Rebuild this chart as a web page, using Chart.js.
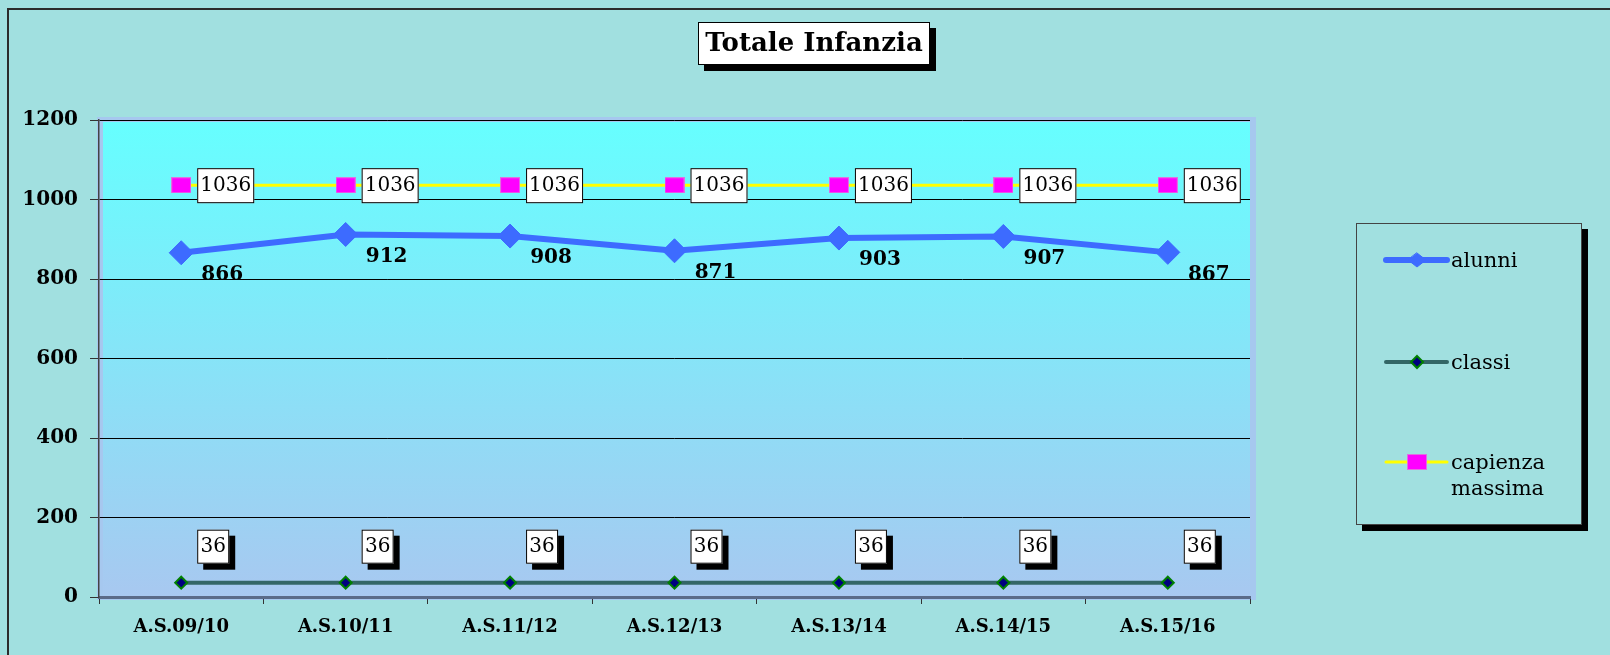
<!DOCTYPE html>
<html>
<head>
<meta charset="utf-8">
<script src="https://cdn.jsdelivr.net/npm/chart.js@4.4.1/dist/chart.umd.min.js"></script>
<style>
  html, body { margin: 0; padding: 0; background: #a1e0e0; }
  canvas { display: block; }
</style>
</head>
<body>
<canvas id="chart_1" width="1610" height="655"></canvas>
<script>
// data
var labels = ['A.S.09/10', 'A.S.10/11', 'A.S.11/12', 'A.S.12/13', 'A.S.13/14', 'A.S.14/15', 'A.S.15/16'];
var alunni = [866, 912, 908, 871, 903, 907, 867];
var classi = [36, 36, 36, 36, 36, 36, 36];
var capienza = [1036, 1036, 1036, 1036, 1036, 1036, 1036];
var seriesNames = ['alunni', 'classi', ['capienza', 'massima']];
var chartTitle = 'Totale Infanzia';

var serif = '"DejaVu Serif", "Liberation Serif", serif';

// magenta square marker for capienza (a bit wider than tall)
function makeSquare(w, h) {
  var c = document.createElement('canvas');
  c.width = w; c.height = h;
  var g = c.getContext('2d');
  g.fillStyle = '#ff00ff';
  g.fillRect(0, 0, w, h);
  g.strokeStyle = '#e070e0';
  g.lineWidth = 1;
  g.strokeRect(0.5, 0.5, w - 1, h - 1);
  return c;
}
var squareMarker = makeSquare(20, 16);

function boxWithShadow(ctx, x, y, w, h, shadow) {
  if (shadow) {
    ctx.fillStyle = '#000';
    ctx.fillRect(x + 6, y + 6, w, h);
  }
  ctx.fillStyle = '#fff';
  ctx.fillRect(x, y, w, h);
  ctx.strokeStyle = '#000';
  ctx.lineWidth = 1;
  ctx.strokeRect(x + 0.5, y + 0.5, w - 1, h - 1);
}

var decoPlugin = {
  id: 'deco',
  beforeDraw: function(chart) {
    var ctx = chart.ctx;
    var a = chart.chartArea;
    ctx.save();
    // outer background + frame
    ctx.fillStyle = '#a1e0e0';
    ctx.fillRect(0, 0, chart.width, chart.height);
    ctx.strokeStyle = '#2b2b2b';
    ctx.lineWidth = 2;
    ctx.beginPath();
    ctx.moveTo(8, chart.height);
    ctx.lineTo(8, 9);
    ctx.lineTo(chart.width, 9);
    ctx.stroke();
    // plot area border band + gradient
    ctx.fillStyle = '#a6c8ef';
    ctx.fillRect(a.left - 2, a.top - 3, a.right - a.left + 8, a.bottom - a.top + 6);
    var grad = ctx.createLinearGradient(0, a.top + 2, 0, a.bottom);
    grad.addColorStop(0, '#66ffff');
    grad.addColorStop(1, '#a8c8f0');
    ctx.fillStyle = grad;
    ctx.fillRect(a.left + 4, a.top + 2, a.right - a.left - 4, a.bottom - a.top - 2);
    ctx.restore();
  },
  afterDatasetsDraw: function(chart) {
    var ctx = chart.ctx;
    ctx.save();
    ctx.textAlign = 'center';
    ctx.textBaseline = 'middle';

    // alunni: bold numbers below right
    var m0 = chart.getDatasetMeta(0);
    ctx.font = 'bold 20px ' + serif;
    ctx.fillStyle = '#000';
    m0.data.forEach(function(pt, i) {
      ctx.fillText(String(alunni[i]), pt.x + 41, pt.y + 22);
    });

    // classi: boxed labels with shadow, above right
    var m1 = chart.getDatasetMeta(1);
    ctx.font = '20px ' + serif;
    m1.data.forEach(function(pt, i) {
      var bx = pt.x + 16, by = pt.y - 53;
      boxWithShadow(ctx, bx, by, 32, 34, true);
      ctx.fillStyle = '#000';
      ctx.fillText(String(classi[i]), bx + 16, by + 17);
    });

    // capienza: boxed labels to the right of marker
    var m2 = chart.getDatasetMeta(2);
    m2.data.forEach(function(pt, i) {
      var bx = pt.x + 16, by = pt.y - 17;
      boxWithShadow(ctx, bx, by, 57, 35, false);
      ctx.fillStyle = '#000';
      ctx.fillText(String(capienza[i]), bx + 28.5, by + 18);
    });
    ctx.restore();
  },
  afterDraw: function(chart) {
    var ctx = chart.ctx;
    ctx.save();
    // title
    boxWithShadow(ctx, 698, 22, 232, 43, true);
    ctx.fillStyle = '#000';
    ctx.font = 'bold 26px ' + serif;
    ctx.textAlign = 'center';
    ctx.textBaseline = 'middle';
    ctx.fillText(chartTitle, 814, 44);

    // legend box
    var lx = 1356, ly = 223, lw = 226, lh = 302;
    ctx.fillStyle = '#000';
    ctx.fillRect(lx + 6, ly + 6, lw, lh);
    ctx.fillStyle = '#a1e0e0';
    ctx.fillRect(lx, ly, lw, lh);
    ctx.strokeStyle = '#444';
    ctx.lineWidth = 1;
    ctx.strokeRect(lx + 0.5, ly + 0.5, lw - 1, lh - 1);

    ctx.textAlign = 'left';
    ctx.font = '21px ' + serif;
    var rows = [260, 362, 462];
    var ds = chart.data.datasets;
    rows.forEach(function(y, i) {
      var d = ds[i];
      ctx.strokeStyle = d.borderColor;
      ctx.lineWidth = d.borderWidth;
      ctx.lineCap = 'round';
      ctx.beginPath();
      ctx.moveTo(1386, y);
      ctx.lineTo(1447, y);
      ctx.stroke();
      if (i === 2) {
        ctx.drawImage(squareMarker, 1407, y - 8);
      } else {
        var rx = i === 0 ? 9 : 6, ry = i === 0 ? 7 : 6;
        ctx.fillStyle = d.pointBackgroundColor;
        ctx.strokeStyle = d.pointBorderColor;
        ctx.lineWidth = d.pointBorderWidth;
        ctx.beginPath();
        ctx.moveTo(1417, y - ry); ctx.lineTo(1417 + rx, y); ctx.lineTo(1417, y + ry); ctx.lineTo(1417 - rx, y);
        ctx.closePath();
        ctx.fill();
        ctx.stroke();
      }
      ctx.fillStyle = '#000';
      var names = [].concat(seriesNames[i]);
      ctx.textBaseline = 'middle';
      names.forEach(function(n, k) {
        ctx.fillText(n, 1451, y + 2 + k * 26);
      });
    });
    ctx.restore();
  }
};

var ctx_1 = document.getElementById('chart_1').getContext('2d');
var chart_1 = new Chart(ctx_1, {
  type: 'line',
  data: {
    labels: labels,
    datasets: [{
      label: 'alunni',
      data: alunni,
      borderColor: '#3d6bff',
      borderWidth: 6,
      pointStyle: 'rectRot',
      pointRadius: 12,
      pointBackgroundColor: '#3d6bff',
      pointBorderColor: '#3d6bff',
      pointBorderWidth: 1,
      tension: 0
    }, {
      label: 'classi',
      data: classi,
      borderColor: '#336666',
      borderWidth: 4,
      pointStyle: 'rectRot',
      pointRadius: 6,
      pointBackgroundColor: '#000080',
      pointBorderColor: '#008000',
      pointBorderWidth: 2,
      tension: 0
    }, {
      label: 'capienza massima',
      data: capienza,
      borderColor: '#ffff00',
      borderWidth: 3,
      pointStyle: squareMarker,
      pointBackgroundColor: '#ff00ff',
      pointBorderColor: '#ff00ff',
      pointBorderWidth: 0,
      tension: 0
    }]
  },
  options: {
    responsive: false,
    animation: false,
    events: [],
    layout: {
      padding: { left: 0, top: 120, right: 360, bottom: 0 }
    },
    plugins: {
      legend: { display: false },
      title: { display: false },
      tooltip: { enabled: false }
    },
    scales: {
      x: {
        offset: true,
        afterFit: function(scale) { scale.height = 58; },
        grid: { offset: true, drawOnChartArea: false, drawTicks: true, tickLength: 7, tickColor: '#333', color: '#333' },
        border: { color: '#5a6a88', width: 3 },
        ticks: {
          color: '#000',
          padding: 13,
          font: { family: serif, size: 18, weight: 'bold' }
        }
      },
      y: {
        min: 0,
        max: 1200,
        afterFit: function(scale) { scale.width = 99; },
        grid: { color: '#000', lineWidth: 1, drawTicks: true, tickLength: 9, tickColor: '#333' },
        border: { color: '#444', width: 1.5 },
        ticks: {
          stepSize: 200,
          color: '#000',
          padding: 12,
          callback: function(v) { return String(v); },
          font: { family: serif, size: 20, weight: 'bold' }
        }
      }
    }
  },
  plugins: [decoPlugin]
});
</script>
</body>
</html>
